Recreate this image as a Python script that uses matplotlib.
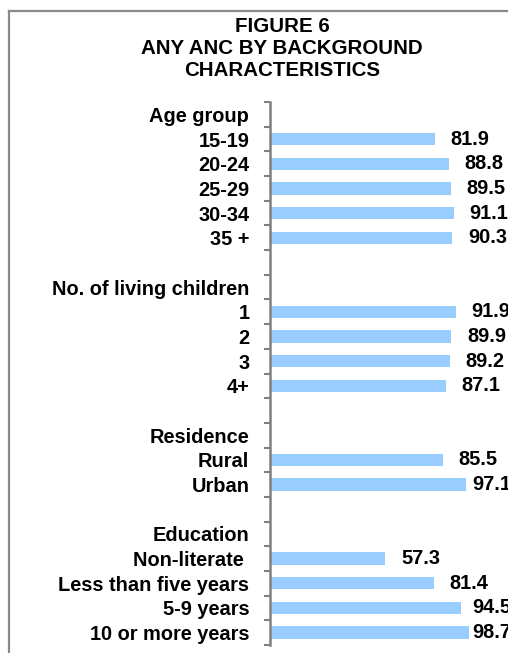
import matplotlib
matplotlib.use("Agg")
import matplotlib.pyplot as plt
from matplotlib.lines import Line2D
import numpy as np

plt.rcParams['font.family'] = ['Liberation Sans', 'DejaVu Sans']

categories = ["Age group", "15-19", "20-24", "25-29", "30-34", "35 +", "",
              "No. of living children", "1", "2", "3", "4+", "",
              "Residence", "Rural", "Urban", "",
              "Education", "Non-literate ", "Less than five years", "5-9 years", "10 or more years"]
values = [None, 81.9, 88.8, 89.5, 91.1, 90.3, None,
          None, 91.9, 89.9, 89.2, 87.1, None,
          None, 85.5, 97.1, None,
          None, 57.3, 81.4, 94.5, 98.7]
title_lines = ["FIGURE 6", "ANY ANC BY BACKGROUND", "CHARACTERISTICS"]

W, H = 508, 653
fig = plt.figure(figsize=(W / 100, H / 100), dpi=100)

ax_left, ax_right = 269.5, 471.9
ax_top, ax_bot = 102, 645
ax = fig.add_axes([ax_left / W, 1 - ax_bot / H, (ax_right - ax_left) / W, (ax_bot - ax_top) / H])

n = len(categories)
ypos = np.arange(n)
bar_y = [y for y, v in zip(ypos, values) if v is not None]
bar_v = [v for v in values if v is not None]
ax.barh(bar_y, bar_v, height=0.5, color="#99CCFF", edgecolor="none")

ax.set_xlim(0, 100)
ax.set_ylim(n - 0.5, -0.5)

ax.set_yticks(ypos)
ax.set_yticklabels(categories, fontsize=14.4, fontweight="bold")
ax.tick_params(axis="y", which="major", length=0, pad=14.5)
ax.set_yticks(np.arange(-0.5, n, 1.0), minor=True)
ax.tick_params(axis="y", which="minor", length=4, width=1.5, color="#808080", direction="out")
ax.set_xticks([])

for s in ["top", "right", "bottom"]:
    ax.spines[s].set_visible(False)
ax.spines["left"].set_color("#808080")
ax.spines["left"].set_linewidth(1.8)

for y, v in zip(bar_y, bar_v):
    xt = min(v + 7.7, 100.4)
    ax.text(xt, y, f"{v:.1f}", ha="left", va="center", fontsize=14.4,
            fontweight="bold", clip_on=False)

for i, line in enumerate(title_lines):
    fig.text(282 / W, 1 - (27 + 21.5 * i) / H, line, ha="center", va="center",
             fontsize=14.8, fontweight="bold")

# outer frame (left and top edges visible)
fig.add_artist(Line2D([9 / W, 9 / W], [0, 1 - 11 / H], transform=fig.transFigure,
                      color="#8a8a8a", lw=1.6))
fig.add_artist(Line2D([9 / W, 1], [1 - 11 / H, 1 - 11 / H], transform=fig.transFigure,
                      color="#8a8a8a", lw=1.6))

fig.savefig("out.png", dpi=100)
